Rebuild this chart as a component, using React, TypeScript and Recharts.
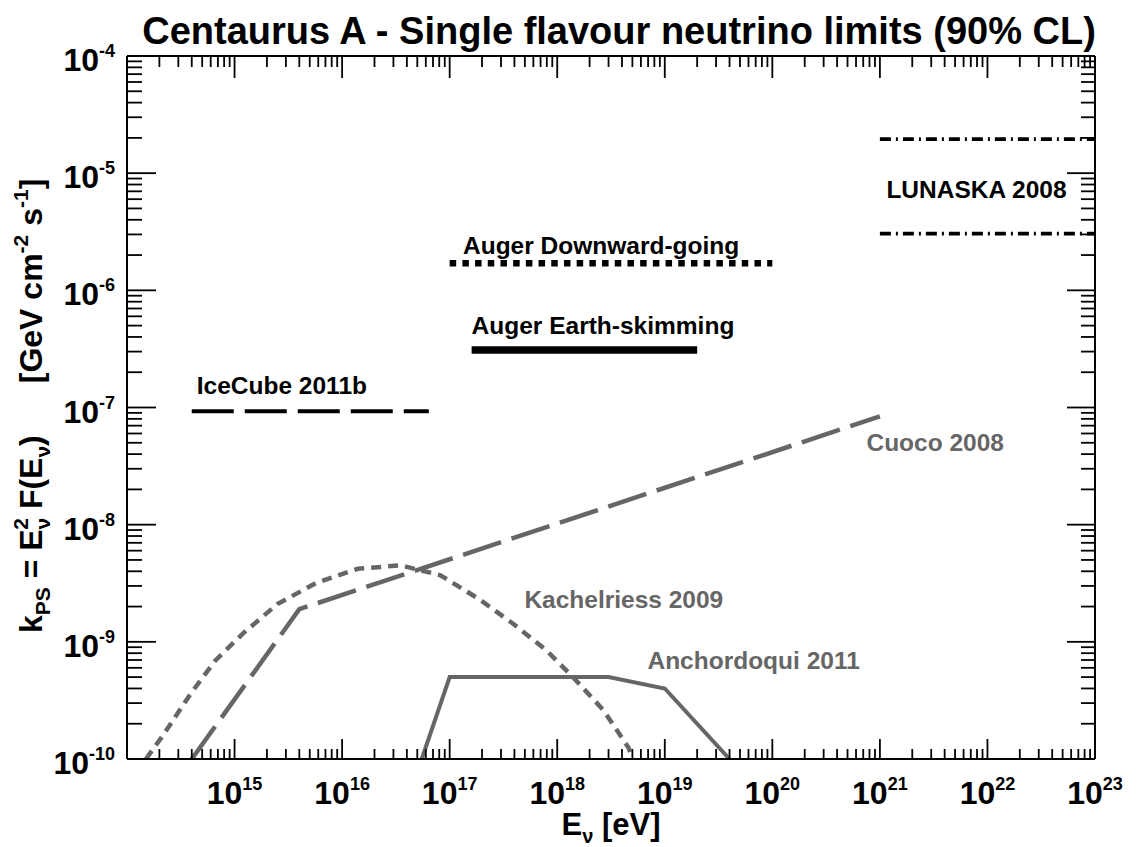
import React from 'react';
import { LineChart, Line, XAxis, YAxis, ReferenceDot } from 'recharts';

const FONT = '"Liberation Sans", Arial, Helvetica, sans-serif';
const GRAY = '#666666';
const BLACK = '#000000';

// Axis decades (log10 exponents) and tick mantissas
const xDecades = [14, 15, 16, 17, 18, 19, 20, 21, 22, 23];
const yDecades = [-10, -9, -8, -7, -6, -5, -4];
const mantissas = [1, 2, 3, 4, 5, 6, 7, 8, 9];
const xLabelDecades = [15, 16, 17, 18, 19, 20, 21, 22, 23];
const yLabelDecades = [-10, -9, -8, -7, -6, -5, -4];

// Experimental limits (E in eV, flux in GeV cm^-2 s^-1)
const iceCubeE = [4e14, 6.4e16];
const iceCubeF = [9.3e-8, 9.3e-8];
const augerDownE = [1e17, 1e20];
const augerDownF = [1.7e-6, 1.7e-6];
const augerEarthE = [1.6e17, 2e19];
const augerEarthF = [3.1e-7, 3.1e-7];
const lunaskaE = [1e21, 1e23];
const lunaskaHighF = [1.95e-5, 1.95e-5];
const lunaskaLowF = [3.05e-6, 3.05e-6];

// Model predictions
const cuocoE = [4e14, 4e15, 1e21];
const cuocoF = [1e-10, 1.9e-9, 8.4e-8];
const kachelE = [1.5e14, 2.2e14, 3.9e14, 6.6e14, 1.2e15, 2.5e15, 5.8e15, 1.4e16, 3.5e16, 8.2e16, 1.9e17, 4e17, 8e17, 1.4e18, 2.7e18, 4.6e18, 5e18];
const kachelF = [1e-10, 1.63e-10, 3.6e-10, 6.9e-10, 1.18e-9, 2.1e-9, 3.2e-9, 4.2e-9, 4.5e-9, 3.7e-9, 2.3e-9, 1.4e-9, 8.4e-10, 5e-10, 2.6e-10, 1.25e-10, 1e-10];
const anchorE = [5.5e16, 1e17, 3e18, 1e19, 4e19];
const anchorF = [1e-10, 5e-10, 5e-10, 4e-10, 1e-10];

// Series text labels: text, E anchor, F anchor (baseline), colour flag
const labelTexts = ['IceCube 2011b', 'Auger Downward-going', 'Auger Earth-skimming', 'LUNASKA 2008', 'Cuoco 2008', 'Kachelriess 2009', 'Anchordoqui 2011'];
const labelE = [4.45e14, 1.33e17, 1.6e17, 1.15e21, 7.5e20, 4.95e17, 6.9e18];
const labelF = [1.31e-7, 2.06e-6, 4.27e-7, 6.08e-6, 4.28e-8, 1.96e-9, 5.87e-10];
const labelGray = [false, false, false, false, true, true, true];

const zip = (xs: number[], ys: number[]) => xs.map((x, i) => ({ x, y: ys[i] }));
const buildTicks = (decs: number[]) => {
  const out: number[] = [];
  decs.forEach((d, i) => {
    mantissas.forEach((m) => {
      if (i === decs.length - 1 && m > 1) return;
      out.push(Number(`${m}e${d}`));
    });
  });
  return out;
};
const xTicks = buildTicks(xDecades);
const yTicks = buildTicks(yDecades);
const expOf = (v: number) => Math.round(Math.log10(v));
const isMajor = (v: number) => Math.abs(Math.log10(v) - Math.round(Math.log10(v))) < 1e-6;

const W = 1138;
const H = 847;

const BottomTick = (props: any) => {
  const { x, y, payload } = props;
  const v = payload.value;
  const major = isMajor(v);
  const e = expOf(v);
  return (
    <g>
      <line x1={x} y1={y} x2={x} y2={y - (major ? 20 : 10)} stroke={BLACK} strokeWidth={1.8} />
      {major && xLabelDecades.includes(e) && (
        <text x={x} y={y + 45} textAnchor="middle" fontFamily={FONT} fontWeight="bold" fontSize={32} fill={BLACK}>
          <tspan>10</tspan>
          <tspan dy={-14} fontSize={18}>{String(e)}</tspan>
        </text>
      )}
    </g>
  );
};

const TopTick = (props: any) => {
  const { x, y, payload } = props;
  const major = isMajor(payload.value);
  return <line x1={x} y1={y} x2={x} y2={y + (major ? 22 : 11)} stroke={BLACK} strokeWidth={1.8} />;
};

const LeftTick = (props: any) => {
  const { x, y, payload } = props;
  const v = payload.value;
  const major = isMajor(v);
  const e = expOf(v);
  return (
    <g>
      <line x1={x} y1={y} x2={x + (major ? 29 : 15)} y2={y} stroke={BLACK} strokeWidth={1.8} />
      {major && yLabelDecades.includes(e) && (
        <text x={x - 12} y={y + 15} textAnchor="end" fontFamily={FONT} fontWeight="bold" fontSize={32} fill={BLACK}>
          <tspan>10</tspan>
          <tspan dy={-14} fontSize={18}>{String(e)}</tspan>
        </text>
      )}
    </g>
  );
};

const RightTick = (props: any) => {
  const { x, y, payload } = props;
  const major = isMajor(payload.value);
  return <line x1={x} y1={y} x2={x - (major ? 28 : 14)} y2={y} stroke={BLACK} strokeWidth={1.8} />;
};

const axisLine = { stroke: BLACK, strokeWidth: 2 };

export default function App() {
  return (
    <div style={{ position: 'absolute', left: 0, top: 0, width: W, height: H, background: '#fff' }}>
      <LineChart width={W} height={H} margin={{ top: 0, right: 0, bottom: 0, left: 0 }}>
        <XAxis xAxisId="b" type="number" dataKey="x" scale="log" domain={[1e14, 1e23]} allowDataOverflow
          ticks={xTicks} interval={0} tick={BottomTick} tickLine={false} tickSize={0} tickMargin={0}
          axisLine={axisLine} height={88} orientation="bottom" />
        <XAxis xAxisId="t" type="number" dataKey="x" scale="log" domain={[1e14, 1e23]} allowDataOverflow
          ticks={xTicks} interval={0} tick={TopTick} tickLine={false} tickSize={0} tickMargin={0}
          axisLine={axisLine} height={56} orientation="top" />
        <YAxis yAxisId="l" type="number" dataKey="y" scale="log" domain={[1e-10, 1e-4]} allowDataOverflow
          ticks={yTicks} interval={0} tick={LeftTick} tickLine={false} tickSize={0} tickMargin={0}
          axisLine={axisLine} width={127} orientation="left" />
        <YAxis yAxisId="r" type="number" dataKey="y" scale="log" domain={[1e-10, 1e-4]} allowDataOverflow
          ticks={yTicks} interval={0} tick={RightTick} tickLine={false} tickSize={0} tickMargin={0}
          axisLine={axisLine} width={43} orientation="right" />

        <Line xAxisId="b" yAxisId="l" data={zip(cuocoE, cuocoF)} dataKey="y" type="linear" stroke={GRAY}
          strokeWidth={4.5} strokeDasharray="40 11" dot={false} isAnimationActive={false} strokeLinecap="butt" />
        <Line xAxisId="b" yAxisId="l" data={zip(kachelE, kachelF)} dataKey="y" type="linear" stroke={GRAY}
          strokeWidth={4.5} strokeDasharray="10 7" dot={false} isAnimationActive={false} strokeLinecap="butt" />
        <Line xAxisId="b" yAxisId="l" data={zip(anchorE, anchorF)} dataKey="y" type="linear" stroke={GRAY}
          strokeWidth={4} dot={false} isAnimationActive={false} strokeLinejoin="miter" />

        <Line xAxisId="b" yAxisId="l" data={zip(iceCubeE, iceCubeF)} dataKey="y" type="linear" stroke={BLACK}
          strokeWidth={4} strokeDasharray="42 11" dot={false} isAnimationActive={false} strokeLinecap="butt" />
        <Line xAxisId="b" yAxisId="l" data={zip(augerDownE, augerDownF)} dataKey="y" type="linear" stroke={BLACK}
          strokeWidth={6.5} strokeDasharray="6.5 6.2" dot={false} isAnimationActive={false} strokeLinecap="butt" />
        <Line xAxisId="b" yAxisId="l" data={zip(augerEarthE, augerEarthF)} dataKey="y" type="linear" stroke={BLACK}
          strokeWidth={7.5} dot={false} isAnimationActive={false} strokeLinecap="butt" />
        <Line xAxisId="b" yAxisId="l" data={zip(lunaskaE, lunaskaHighF)} dataKey="y" type="linear" stroke={BLACK}
          strokeWidth={3.8} strokeDasharray="11 5 2 5" dot={false} isAnimationActive={false} strokeLinecap="butt" />
        <Line xAxisId="b" yAxisId="l" data={zip(lunaskaE, lunaskaLowF)} dataKey="y" type="linear" stroke={BLACK}
          strokeWidth={3.8} strokeDasharray="11 5 2 5" dot={false} isAnimationActive={false} strokeLinecap="butt" />

        {labelTexts.map((t, i) => (
          <ReferenceDot key={t} xAxisId="b" yAxisId="l" x={labelE[i]} y={labelF[i]} r={0} ifOverflow="visible"
            shape={(p: any) => (
              <text x={p.cx} y={p.cy} fontFamily={FONT} fontWeight="bold" fontSize={24.5}
                fill={labelGray[i] ? GRAY : BLACK}>{t}</text>
            )} />
        ))}
      </LineChart>

      <svg width={W} height={H} style={{ position: 'absolute', left: 0, top: 0, pointerEvents: 'none' }}>
        <text x={619} y={44} textAnchor="middle" fontFamily={FONT} fontWeight="bold" fontSize={38} fill={BLACK}>
          Centaurus A - Single flavour neutrino limits (90% CL)
        </text>
        <text x={611} y={835} textAnchor="middle" fontFamily={FONT} fontWeight="bold" fontSize={31} fill={BLACK}>
          <tspan>E</tspan>
          <tspan dy={8} fontSize={20}>ν</tspan>
          <tspan dy={-8}> [eV]</tspan>
        </text>
        <text transform="translate(42, 633) rotate(-90)" fontFamily={FONT} fontWeight="bold" fontSize={32}
          fill={BLACK} style={{ whiteSpace: 'pre' }}>
          <tspan>k</tspan>
          <tspan dy={8} fontSize={21}>PS</tspan>
          <tspan dy={-8}> = E</tspan>
          <tspan dy={8} fontSize={21}>ν</tspan>
          <tspan dx={-12} dy={-22} fontSize={21}>2</tspan>
          <tspan dy={14}> F(E</tspan>
          <tspan dy={8} fontSize={21}>ν</tspan>
          <tspan dy={-8}>)</tspan>
          <tspan dx={52}>[GeV cm</tspan>
          <tspan dy={-14} fontSize={21}>-2</tspan>
          <tspan dy={14}> s</tspan>
          <tspan dy={-14} fontSize={21}>-1</tspan>
          <tspan dy={14}>]</tspan>
        </text>
      </svg>
    </div>
  );
}
